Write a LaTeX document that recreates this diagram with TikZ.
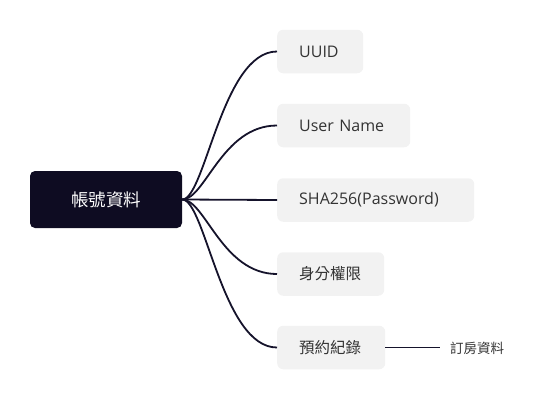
\documentclass[tikz,border=0pt]{standalone}
\usepackage{fontspec}
\setmainfont{Open Sans}
\newfontfamily\cjkf{Noto Sans CJK TC}
\definecolor{rootfill}{HTML}{0E0C22}
\definecolor{leaffill}{HTML}{F2F2F2}
\definecolor{linecol}{HTML}{15132B}
\definecolor{txt}{HTML}{333333}
\begin{document}
\begin{tikzpicture}[x=1pt,y=-1pt,
  rootbox/.style={fill=rootfill, rounded corners=5pt, minimum width=152pt, minimum height=57pt, inner sep=0pt, text=white, font=\cjkf\fontsize{17.5}{20}\selectfont},
  leaf/.style={fill=leaffill, rounded corners=6pt, minimum height=43.5pt, inner ysep=0pt, inner xsep=22pt, anchor=west, align=left, text=txt, font=\fontsize{16}{19}\selectfont},
  cjkleaf/.style={leaf, font=\cjkf\fontsize{15.5}{18}\selectfont},
  conn/.style={draw=linecol, line width=1.8pt},
  plain/.style={text=txt, inner sep=0pt, font=\cjkf\fontsize{13.5}{16}\selectfont}]
\useasboundingbox (0,0) rectangle (545,400);
\node[rootbox] (root) at (106,199.5) {帳號資料};
\node[leaf, text width=42pt] (uuid) at (277,51.5) {UUID};
\node[leaf, text width=89pt] (uname) at (277,125.5) {User Name};
\node[leaf, text width=153pt] (sha) at (277,200) {SHA256(Password)};
\node[cjkleaf, text width=63pt] (perm) at (277,274) {身分權限};
\node[cjkleaf, text width=64pt] (resv) at (277,347.5) {預約紀錄};
\node[plain, anchor=west] (order) at (450,348) {訂房資料};
\coordinate (lineend) at (440,347.5);
\draw[conn] (root.east) .. controls +(23,0) and +(-55,0) .. (uuid.west);
\draw[conn] (root.east) .. controls +(23,0) and +(-55,0) .. (uname.west);
\draw[conn] (root.east) -- (sha.west);
\draw[conn] (root.east) .. controls +(23,0) and +(-55,0) .. (perm.west);
\draw[conn] (root.east) .. controls +(23,0) and +(-55,0) .. (resv.west);
\draw[conn] (resv.east) -- (lineend);
\end{tikzpicture}
\end{document}
